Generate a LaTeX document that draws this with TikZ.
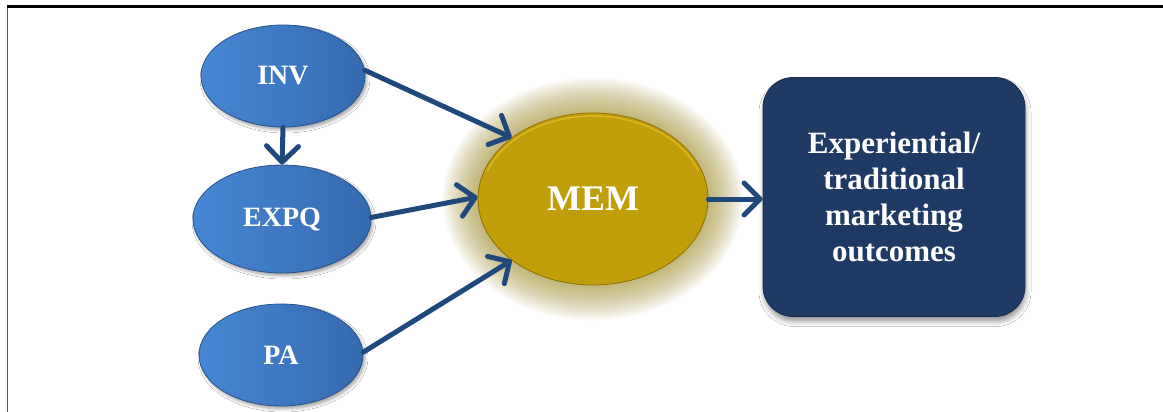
\documentclass[tikz,border=0pt]{standalone}
\usepackage{fontspec}
\setmainfont{Liberation Serif}
\usetikzlibrary{shapes.geometric,arrows.meta,shadows.blur}

\definecolor{bubL}{RGB}{70,134,212}
\definecolor{bubR}{RGB}{54,106,176}
\definecolor{bubEdge}{RGB}{40,82,140}
\definecolor{memFill}{RGB}{192,158,10}
\definecolor{memRim}{RGB}{222,190,40}
\definecolor{memEdge}{RGB}{140,112,0}
\definecolor{memGlow}{RGB}{160,140,40}
\definecolor{boxFill}{RGB}{31,58,100}
\definecolor{boxEdge}{RGB}{22,42,75}
\definecolor{arrowBlue}{RGB}{31,73,125}
\definecolor{frameGray}{RGB}{90,90,90}

\tikzset{
  bub/.style={ellipse, inner sep=0pt, minimum width=164pt, minimum height=102pt,
    left color=bubL, right color=bubR, draw=bubEdge, line width=0.8pt,
    text=white, font=\fontsize{28}{32}\selectfont\bfseries,
    blur shadow={shadow xshift=2pt, shadow yshift=-3pt, shadow blur radius=3pt, shadow opacity=35}},
  memnode/.style={ellipse, inner sep=0pt, minimum width=230pt, minimum height=172pt,
    fill=memFill, draw=memEdge, line width=0.8pt,
    text=white, font=\fontsize{36}{40}\selectfont\bfseries},
  outbox/.style={rectangle, rounded corners=30pt, inner sep=0pt,
    minimum width=262pt, minimum height=239pt, align=center,
    fill=boxFill, draw=boxEdge, line width=0.8pt,
    text=white, font=\fontsize{31}{36}\selectfont\bfseries,
    blur shadow={shadow xshift=1pt, shadow yshift=-5pt, shadow blur radius=5pt, shadow opacity=40}},
  arr/.style={draw=arrowBlue, line width=5pt, line cap=round,
    -{Straight Barb[length=16pt, width=32pt, round]}},
}

\begin{document}
\begin{tikzpicture}[x=1pt, y=-1pt]
  \useasboundingbox (0,0) rectangle (1163,412);
  \fill[white] (0,0) rectangle (1163,412);

  % page frame
  \draw[frameGray, line width=1.5pt] (7.5,7) -- (7.5,412);
  \draw[black, line width=3pt] (6.75,7) -- (1163,7);

  % soft halo behind the mediator
  \foreach \i in {1,...,22}
    \fill[memGlow, opacity=0.038] (593,199) ellipse [x radius={113pt+1.7pt*\i}, y radius={84pt+1.7pt*\i}];

  % constructs
  \node[bub] (inv) at (283,76) {INV};
  \node[bub, minimum width=178pt, minimum height=108pt] (expq) at (282,219) {EXPQ};
  \node[bub] (pa) at (281,355) {PA};
  \node[memnode] (mem) at (593,199) {MEM};
  % light bevel along the upper rim of the mediator
  \draw[memRim, line width=1.5pt, opacity=0.8, line cap=round]
    (593,199) ++(160:112pt and 83pt) arc [start angle=160, end angle=20, x radius=112pt, y radius=83pt];
  \node[outbox] (out) at (894,197) {Experiential/\\traditional\\marketing\\outcomes};

  % paths
  \draw[arr] (inv.4) -- (mem.143);
  \draw[arr] (inv.south) -- (expq.north);
  \draw[arr] (expq.1) -- (mem.179);
  \draw[arr] (pa.2) -- (mem.217);
  \draw[arr] (mem.east) -- (mem.east -| out.west);
\end{tikzpicture}
\end{document}
